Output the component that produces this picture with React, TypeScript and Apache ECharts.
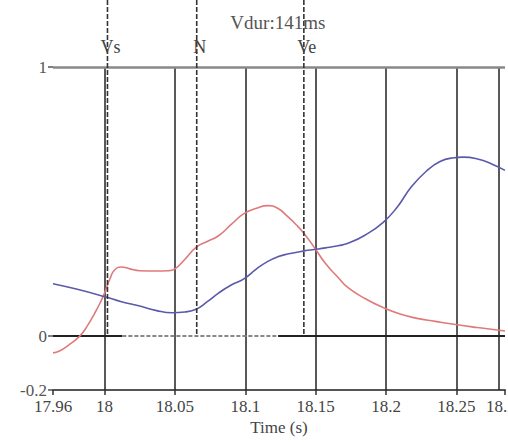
import React, { useEffect, useRef } from "react";
import * as echarts from "echarts";

const X_MIN = 17.9634;
const X_MAX = 18.2845;
const xTicks = [17.9634, 18, 18.05, 18.1, 18.15, 18.2, 18.25, 18.2845];
const xTickLabels = ["17.96", "18", "18.05", "18.1", "18.15", "18.2", "18.25", "18.28"];
const yTicks = [-0.2, 0, 1];
const yTickLabels = ["-0.2", "0", "1"];

const redTime = [17.9634, 17.968, 17.974, 17.9824, 17.988, 17.993, 17.997, 18.0, 18.004, 18.007, 18.012, 18.018, 18.025, 18.037, 18.045, 18.05, 18.057, 18.065, 18.073, 18.081, 18.09, 18.099, 18.108, 18.116, 18.123, 18.13, 18.136, 18.142, 18.149, 18.157, 18.166, 18.173, 18.185, 18.198, 18.21, 18.222, 18.235, 18.247, 18.265, 18.2845];
const redValue = [-0.062, -0.055, -0.035, 0.0, 0.04, 0.085, 0.125, 0.16, 0.215, 0.245, 0.257, 0.25, 0.243, 0.242, 0.243, 0.25, 0.285, 0.33, 0.352, 0.373, 0.415, 0.455, 0.475, 0.485, 0.475, 0.445, 0.415, 0.38, 0.33, 0.27, 0.218, 0.18, 0.14, 0.106, 0.082, 0.066, 0.055, 0.045, 0.032, 0.019];

const blueTime = [17.9634, 17.98, 18.0, 18.012, 18.025, 18.037, 18.048, 18.057, 18.065, 18.073, 18.081, 18.09, 18.099, 18.108, 18.116, 18.123, 18.13, 18.142, 18.149, 18.157, 18.166, 18.173, 18.185, 18.198, 18.208, 18.218, 18.229, 18.238, 18.247, 18.255, 18.265, 18.275, 18.2845];
const blueValue = [0.195, 0.175, 0.147, 0.128, 0.112, 0.095, 0.087, 0.09, 0.1, 0.128, 0.16, 0.19, 0.213, 0.25, 0.278, 0.295, 0.305, 0.317, 0.322, 0.328, 0.336, 0.345, 0.375, 0.423, 0.48, 0.555, 0.615, 0.648, 0.662, 0.665, 0.658, 0.64, 0.616];

const markerNames = ["Vs", "N", "Ve"];
const markerTimes = [18.0021, 18.0655, 18.1416];
const durationLabel = "Vdur:141ms";
const durationSpan = [18.0127, 18.1233];

const FONT = '"Liberation Serif", serif';

export default function App() {
  const ref = useRef<HTMLDivElement>(null);
  useEffect(() => {
    if (!ref.current) return;
    const chart = echarts.init(ref.current, undefined, { renderer: "svg" });
    const gridLines = xTicks.map((t) => ({ xAxis: t }));
    chart.setOption({
      animation: false,
      backgroundColor: "#ffffff",
      textStyle: { fontFamily: FONT },
      grid: { left: 53, right: 3, top: 67, bottom: 56, outerBoundsMode: "none", containLabel: false },
      xAxis: {
        type: "value",
        min: X_MIN,
        max: X_MAX,
        name: "Time (s)",
        nameLocation: "middle",
        nameGap: 25,
        nameTextStyle: { fontFamily: FONT, fontSize: 17, color: "#444" },
        splitLine: { show: false },
        axisLine: { show: true, onZero: false, lineStyle: { color: "#555", width: 2 } },
        axisTick: { show: true, customValues: xTicks, length: 5, lineStyle: { color: "#333", width: 1.5 } },
        axisLabel: {
          customValues: xTicks,
          fontFamily: FONT,
          fontSize: 17,
          lineHeight: 14,
          color: "#444",
          margin: 9,
          hideOverlap: false,
          formatter: (v: number) => {
            const i = xTicks.findIndex((t) => Math.abs(t - v) < 1e-6);
            return i >= 0 ? xTickLabels[i] : "";
          },
        },
      },
      yAxis: {
        type: "value",
        min: -0.2,
        max: 1,
        splitLine: { show: false },
        axisLine: { show: false },
        axisTick: { show: true, customValues: yTicks, length: 5, lineStyle: { color: "#555", width: 1.5 } },
        axisLabel: {
          customValues: yTicks,
          fontFamily: FONT,
          fontSize: 17,
          lineHeight: 14,
          color: "#555",
          margin: 6,
          padding: [0, 0, 6, 0],
          formatter: (v: number) => {
            const i = yTicks.findIndex((t) => Math.abs(t - v) < 1e-6);
            return i >= 0 ? yTickLabels[i] : "";
          },
        },
      },
      series: [
        {
          type: "line",
          name: "grid",
          data: [],
          markLine: {
            silent: true,
            symbol: "none",
            label: { show: false },
            lineStyle: { color: "#222", width: 1.5, type: "solid" },
            data: [
              ...gridLines,
              { yAxis: 1, lineStyle: { color: "#888", width: 2.5, type: "solid" } },
              [
                { coord: [X_MIN, 0], lineStyle: { color: "#222", width: 2, type: "solid" } },
                { coord: [durationSpan[0], 0] },
              ],
              [
                { coord: [durationSpan[0], 0], lineStyle: { color: "#888", width: 2, type: [4, 2] } },
                { coord: [durationSpan[1], 0] },
              ],
              [
                { coord: [durationSpan[1], 0], lineStyle: { color: "#222", width: 2, type: "solid" } },
                { coord: [X_MAX, 0] },
              ],
            ],
          },
        },
        {
          type: "line",
          name: "red",
          data: redTime.map((t, i) => [t, redValue[i]]),
          smooth: 0.5,
          showSymbol: false,
          lineStyle: { color: "#e07a7a", width: 1.6 },
          z: 5,
        },
        {
          type: "line",
          name: "blue",
          data: blueTime.map((t, i) => [t, blueValue[i]]),
          smooth: 0.5,
          showSymbol: false,
          lineStyle: { color: "#5a5aaa", width: 1.6 },
          z: 5,
        },
      ],
    });

    const graphics: any[] = [];
    const zeroY = chart.convertToPixel({ gridIndex: 0 }, [X_MIN, 0])[1];
    const pxs = markerTimes.map((t) => chart.convertToPixel({ gridIndex: 0 }, [t, 0])[0]);
    markerTimes.forEach((t, i) => {
      const px = pxs[i];
      graphics.push({
        type: "line",
        shape: { x1: px, y1: 0, x2: px, y2: zeroY },
        style: { stroke: "#333", lineWidth: 1.6, lineDash: [5, 2] },
        z: 10,
      });
      graphics.push({
        type: "text",
        x: px + 3,
        y: 47,
        style: {
          text: markerNames[i],
          font: `18px ${FONT}`,
          fill: "#444",
          align: "center",
          verticalAlign: "middle",
        },
        z: 11,
      });
    });
    graphics.push({
      type: "text",
      x: pxs[2] - 26,
      y: 22,
      style: {
        text: durationLabel,
        font: `19px ${FONT}`,
        fill: "#555",
        align: "center",
        verticalAlign: "middle",
      },
      z: 11,
    });
    chart.setOption({ graphic: graphics });

    return () => chart.dispose();
  }, []);
  return (
    <div
      ref={ref}
      style={{ position: "absolute", left: 0, top: 0, width: 508, height: 446 }}
    />
  );
}
